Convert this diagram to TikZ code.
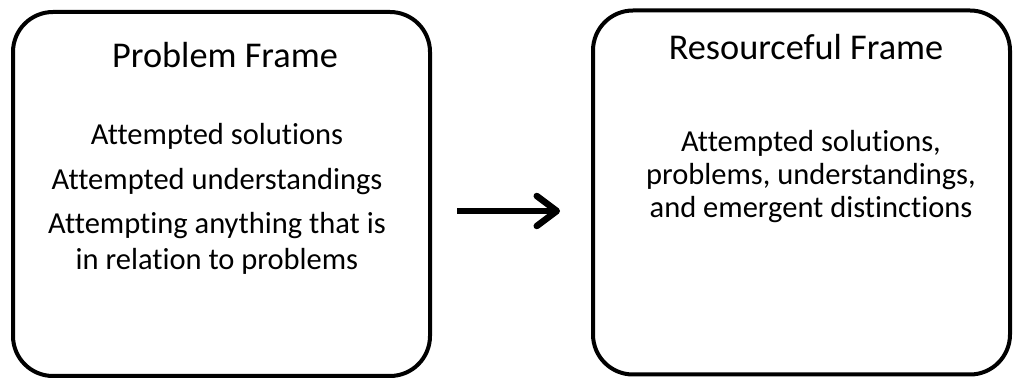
\documentclass[tikz,border=0pt]{standalone}
\usepackage{fontspec}
\setmainfont{Carlito}[Ligatures=CommonOff]
\usetikzlibrary{arrows.meta}
\begin{document}
\begin{tikzpicture}[x=1pt,y=-1pt,
  frame/.style={draw=black, line width=4pt, rounded corners=40pt, minimum width=417pt, minimum height=364pt},
  title/.style={font=\fontsize{36.3}{42}\selectfont, inner sep=0pt, anchor=base},
  body/.style={font=\fontsize{30.5}{36}\selectfont, inner sep=0pt, anchor=base},
  link/.style={line width=6.5pt, -{Straight Barb[length=20pt,width=30pt,line cap=round,line join=round]}}]
\useasboundingbox (0,0) rectangle (1013,379);
% the two frames
\node[frame] (pf) at (221.5,194) {};
\node[frame] (rf) at (801.5,192.5) {};
% left frame text
\node[title] (pft) at (225,68) {Problem Frame};
\node[body] (p1) at (217,145) {Attempted solutions};
\node[body] (p2) at (217,190) {Attempted understandings};
\node[body] (p3) at (217,234) {Attempting anything that is};
\node[body] (p4) at (217,270) {in relation to problems};
% right frame text
\node[title] (rft) at (806,60) {Resourceful Frame};
\node[body] (r1) at (811,152) {Attempted solutions,};
\node[body] (r2) at (811,185) {problems, understandings,};
\node[body] (r3) at (811,218) {and emergent distinctions};
% transition arrow
\coordinate (a1) at (457,211);
\coordinate (a2) at (560,211);
\draw[link] (a1) -- (a2);
\end{tikzpicture}
\end{document}
